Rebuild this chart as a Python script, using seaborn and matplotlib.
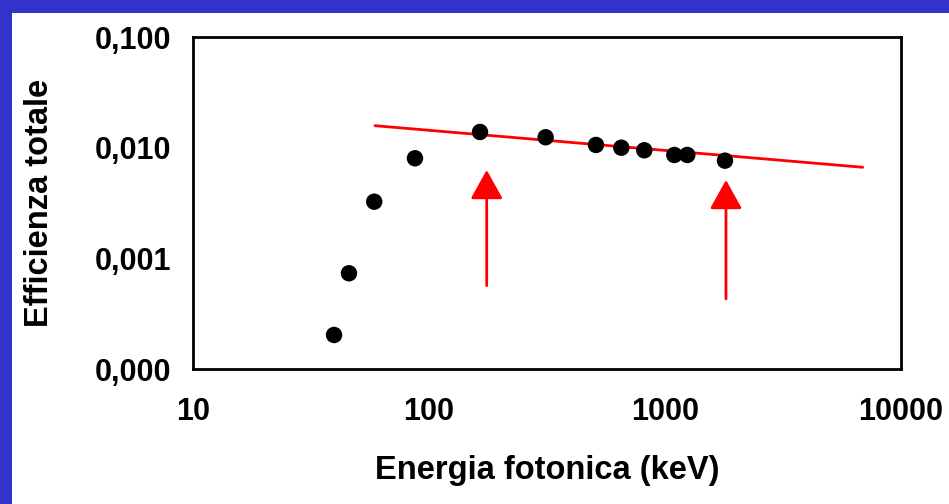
import numpy as np
import pandas as pd
import matplotlib
matplotlib.use("Agg")
import matplotlib.pyplot as plt
from matplotlib.patches import Rectangle
from matplotlib.ticker import FixedLocator, FixedFormatter, NullLocator
import seaborn as sns

# measured efficiency points (keV, total efficiency)
energy_kev = [39.6, 45.8, 58.6, 87.2, 164.5, 312, 510, 653, 817, 1095, 1243, 1795]
efficiency = [0.000203, 0.000733, 0.00325, 0.00802, 0.01386, 0.01242,
              0.01058, 0.00999, 0.00947, 0.00859, 0.00859, 0.00763]

# fitted straight line (log-log), two end points
fit_x = [59.0, 6880]
fit_y = [0.0158, 0.00665]

# red arrows: x position, tail y, tip y
arrow_x = [175.6, 1813]
arrow_tail = [0.000567, 0.000430]
arrow_tip = [0.00629, 0.00511]

x_ticks = [10, 100, 1000, 10000]
x_ticklabels = ["10", "100", "1000", "10000"]
y_ticks = [0.0001, 0.001, 0.01, 0.1]
y_ticklabels = ["0,000", "0,001", "0,010", "0,100"]

BLUE = "#3333CC"

sns.set_style("white")
plt.rcParams["font.family"] = ["Liberation Sans", "DejaVu Sans"]
plt.rcParams["font.weight"] = "bold"
plt.rcParams["text.color"] = "black"
plt.rcParams["axes.labelcolor"] = "black"
plt.rcParams["xtick.color"] = "black"
plt.rcParams["ytick.color"] = "black"

fig = plt.figure(figsize=(9.49, 5.04), dpi=100)
fig.patch.set_facecolor("white")
W, H = 949, 504
fig.add_artist(Rectangle((0, 0), 12 / W, 1, transform=fig.transFigure,
                         facecolor=BLUE, edgecolor="none", zorder=0))
fig.add_artist(Rectangle((0, 1 - 13 / H), 1, 13 / H, transform=fig.transFigure,
                         facecolor=BLUE, edgecolor="none", zorder=0))

ax = fig.add_axes([193 / W, 1 - 369 / H, (901 - 193) / W, (369 - 37) / H])
ax.set_xscale("log")
ax.set_yscale("log")

df_pts = pd.DataFrame({"energy": energy_kev, "eff": efficiency})
df_fit = pd.DataFrame({"energy": fit_x, "eff": fit_y})

sns.lineplot(data=df_fit, x="energy", y="eff", ax=ax, color="#FF0000",
             linewidth=2.0, zorder=2)
sns.scatterplot(data=df_pts, x="energy", y="eff", ax=ax, color="black",
                s=140, edgecolor="none", zorder=3)

for xa, yt, yh in zip(arrow_x, arrow_tail, arrow_tip):
    ax.annotate("", xy=(xa, yh), xytext=(xa, yt),
                arrowprops=dict(arrowstyle="-|>,head_width=1.0,head_length=1.8",
                                mutation_scale=10, color="#FF0000", lw=2.0,
                                shrinkA=0, shrinkB=0))

ax.set_xlim(10, 10000)
ax.set_ylim(0.0001, 0.1)
ax.xaxis.set_major_locator(FixedLocator(x_ticks))
ax.xaxis.set_major_formatter(FixedFormatter(x_ticklabels))
ax.yaxis.set_major_locator(FixedLocator(y_ticks))
ax.yaxis.set_major_formatter(FixedFormatter(y_ticklabels))
ax.xaxis.set_minor_locator(NullLocator())
ax.yaxis.set_minor_locator(NullLocator())

ax.tick_params(axis="both", which="major", direction="out", length=6.5,
               width=1.0, color="black", labelcolor="black", labelsize=22)
ax.tick_params(axis="x", pad=14)
ax.tick_params(axis="y", pad=9)
for lab in ax.get_xticklabels() + ax.get_yticklabels():
    lab.set_fontweight("bold")

for sp in ax.spines.values():
    sp.set_visible(True)
    sp.set_color("black")
    sp.set_linewidth(2.0)

ax.set_xlabel("Energia fotonica (keV)", fontsize=23.5, fontweight="bold",
              color="black")
ax.set_ylabel("Efficienza totale", fontsize=23.5, fontweight="bold",
              color="black")
ax.xaxis.set_label_coords(0.5, (369 - 470) / 332)
ax.xaxis.label.set_va("center")
ax.yaxis.set_label_coords((40 - 193) / 708, 0.5)
ax.yaxis.label.set_va("center")

fig.savefig("out.png", dpi=100, facecolor=fig.get_facecolor())
